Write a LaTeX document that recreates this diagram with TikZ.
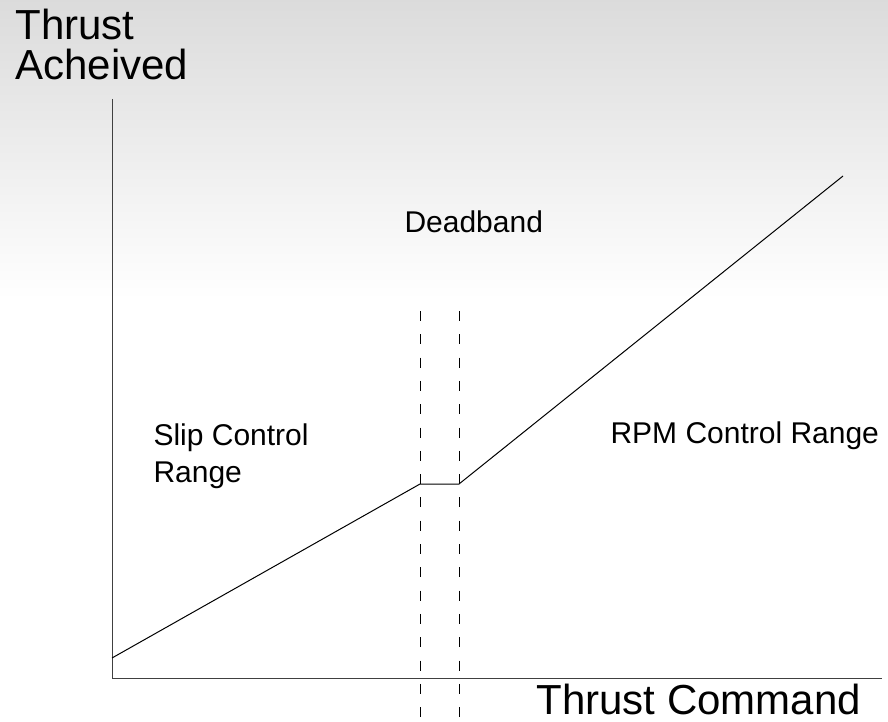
\documentclass[tikz,border=0pt]{standalone}
\usepackage{fontspec}
\setmainfont{Liberation Sans}
\usepackage{xcolor}
\usepackage{tikz}
\definecolor{topshade}{rgb}{0.86,0.86,0.86}
\definecolor{axisline}{rgb}{0.25,0.25,0.25}

\tikzset{
	bigtext/.style={anchor=base west,font=\fontsize{42}{40}\selectfont,align=left},
	smalltext/.style={anchor=base west,font=\fontsize{30}{37}\selectfont,align=left},
	bandline/.style={color=black,line width=0.9pt,dash pattern=on 10pt off 13.3pt}
}

\begin{document}
\begin{tikzpicture}[x=1pt,y=-1pt]
					% page and background fade
					\useasboundingbox (0,0) rectangle (888,722);
					\fill[white] (0,0) rectangle (888,722);
					\shade[top color=topshade,bottom color=white] (0,0) rectangle (888,300);

					\coordinate (origin) at (112,678);
					\coordinate (ytop) at (112,99);
					\coordinate (xend) at (882,678);
					\coordinate (c1) at (112,658);
					\coordinate (c2) at (420,484);
					\coordinate (c3) at (459,484);
					\coordinate (c4) at (843,176);
					\coordinate (d1) at (420,311);
					\coordinate (d2) at (420,718);
					\coordinate (d3) at (459,311);
					\coordinate (d4) at (459,718);

					% axes
					\draw[color=axisline,line width=1pt] (ytop) to[] (origin) to[] (xend);

					% deadband limits
					\draw[bandline] (d1) to[] (d2);
					\draw[bandline] (d3) to[] (d4);

					% thrust curve
					\draw[color=black,line width=1pt] (c1) to[] (c2) to[] (c3) to[] (c4);

					% two-line labels sit on their last baseline
					\node (ylabel) at (12,80) [bigtext] {Thrust\\Acheived};
					\node (xlabel) at (533,714) [bigtext] {Thrust Command};
					\node (deadband) at (401,232) [smalltext] {Deadband};
					\node (slip) at (150,482) [smalltext] {Slip Control\\Range};
					\node (rpm) at (607,443) [smalltext] {RPM Control Range};
				\end{tikzpicture}
\end{document}
